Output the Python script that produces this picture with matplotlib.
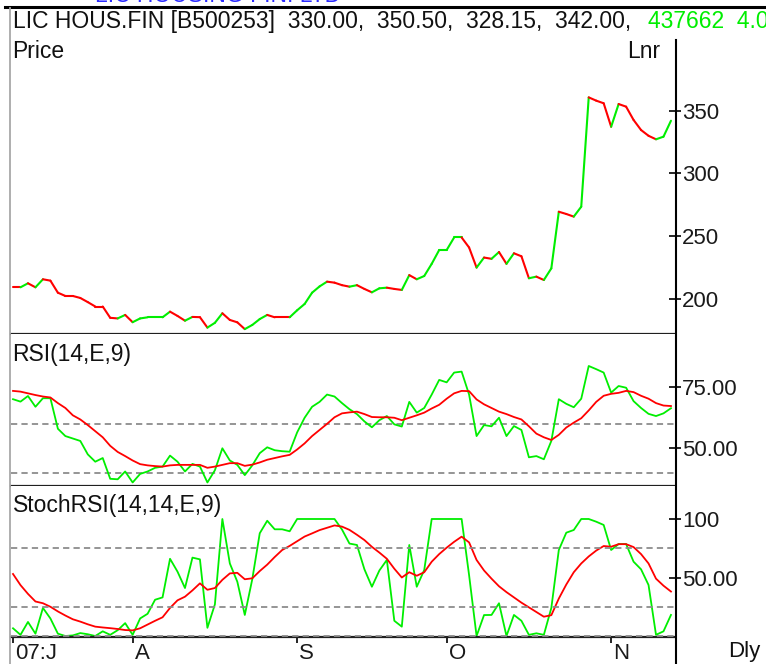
import matplotlib
matplotlib.use("Agg")
import matplotlib.pyplot as plt
import matplotlib.transforms as mtransforms
from matplotlib.lines import Line2D

plt.rcParams['font.family'] = ['Liberation Sans', 'DejaVu Sans']
plt.rcParams['lines.scale_dashes'] = False

# ---------------- data (daily, Jul-Nov 2007) ----------------
price = [209.3, 209.3, 212.5, 209.3, 215.7, 214.6, 205.0, 202.4, 202.4, 200.8,
         197.5, 194.0, 194.0, 185.0, 184.5, 187.3, 181.5, 184.5, 185.4, 185.4,
         185.4, 189.9, 186.5, 182.7, 185.7, 185.5, 177.2, 181.0, 188.6, 183.3,
         181.4, 176.0, 179.3, 184.0, 187.3, 185.4, 185.4, 185.4, 191.0, 196.0,
         205.0, 210.0, 213.8, 213.0, 211.0, 209.8, 211.0, 208.0, 205.3, 208.5,
         209.0, 208.0, 207.2, 219.0, 215.7, 218.3, 228.0, 239.0, 239.0, 249.0,
         249.0, 241.0, 225.0, 233.0, 232.0, 237.4, 228.0, 236.4, 234.0, 216.5,
         217.8, 215.1, 224.4, 269.5, 267.7, 265.6, 273.5, 360.6, 358.0, 355.9,
         337.2, 355.3, 353.2, 342.6, 334.6, 330.0, 327.2, 329.3, 342.0]

rsi = [70.1, 69.1, 71.4, 67.0, 70.5, 70.5, 58.0, 55.0, 54.0, 53.0,
       47.5, 44.5, 46.0, 37.5, 37.3, 40.5, 36.0, 39.5, 40.5, 42.0,
       42.5, 47.0, 44.5, 40.5, 43.6, 42.5, 36.0, 41.0, 50.0, 45.0,
       43.2, 39.0, 43.0, 48.0, 50.4, 49.2, 48.8, 48.6, 56.5, 62.5,
       67.0, 69.0, 72.0, 71.2, 68.5, 66.0, 64.0, 61.0, 58.6, 61.5,
       63.2, 59.8, 58.9, 69.0, 64.6, 66.5, 72.0, 78.0, 77.0, 81.0,
       81.4, 72.0, 55.0, 59.5, 59.0, 62.5, 55.0, 59.1, 57.5, 46.3,
       46.8, 45.5, 53.0, 70.1, 68.2, 66.8, 70.3, 83.7, 82.4, 81.0,
       72.8, 75.5, 74.8, 69.3, 66.5, 64.1, 63.2, 64.3, 66.4]

rsi_signal = [73.5, 73.2, 72.5, 71.8, 71.2, 70.8, 68.5, 66.5, 63.5, 61.8,
              59.5, 57.0, 54.5, 51.0, 48.5, 46.8, 45.0, 43.5, 43.0, 42.7,
              42.5, 43.0, 43.2, 43.2, 43.2, 43.2, 42.0, 42.5, 43.2, 43.9,
              43.9, 42.8, 43.3, 44.2, 45.3, 46.0, 46.7, 47.3, 49.5, 52.0,
              55.0, 57.5, 60.0, 62.7, 64.3, 64.7, 65.0, 64.0, 62.8, 62.7,
              62.7, 62.5, 61.5, 62.5, 63.5, 64.6, 66.3, 67.8, 70.3, 72.5,
              73.5, 73.4, 70.0, 68.0, 66.5, 65.0, 64.0, 62.8, 61.8, 59.0,
              56.0, 54.5, 53.4, 55.5, 58.5, 60.5, 62.3, 65.5, 69.0, 71.5,
              72.3, 72.7, 73.5, 73.0, 71.5, 70.3, 68.5, 67.5, 67.3]

stoch_rsi = [6.6, 1.0, 12.0, 2.0, 24.0, 15.0, 2.0, 0.0, 0.5, 2.5,
             1.5, 0.0, 4.0, 1.0, 5.0, 11.0, 1.0, 15.0, 19.0, 31.0,
             33.0, 66.0, 55.0, 41.0, 67.0, 65.5, 7.0, 27.0, 100.0, 62.0,
             46.4, 18.0, 48.5, 87.8, 98.5, 91.2, 91.2, 89.5, 100.0, 100.0,
             100.0, 100.0, 100.0, 100.0, 91.0, 79.0, 77.8, 57.0, 42.1, 56.0,
             65.0, 13.0, 8.0, 77.8, 42.1, 56.4, 100.0, 100.0, 100.0, 100.0,
             100.0, 52.0, 0.0, 17.9, 18.0, 28.0, 0.0, 18.0, 13.0, 1.0,
             2.3, 1.0, 24.0, 73.5, 88.3, 90.6, 100.0, 100.0, 97.7, 94.9,
             73.5, 78.6, 78.6, 63.5, 57.0, 43.6, 1.0, 4.0, 18.0]

stoch_signal = [53.0, 43.5, 36.0, 29.5, 28.0, 25.0, 21.0, 17.5, 14.3, 12.3,
                10.0, 8.0, 7.3, 6.7, 6.0, 5.1, 4.8, 6.6, 9.8, 13.0,
                16.0, 24.0, 30.5, 33.6, 39.0, 45.0, 39.5, 41.0, 48.0, 53.5,
                54.0, 48.5, 49.3, 55.5, 61.0, 67.5, 73.5, 77.0, 81.0, 85.0,
                87.7, 90.5, 92.5, 94.5, 93.5, 90.7, 86.5, 82.0, 76.2, 71.3,
                66.0, 57.5, 50.0, 54.5, 51.5, 54.5, 63.5, 70.0, 75.5, 80.5,
                84.9, 80.0, 65.0, 56.0, 49.0, 42.5, 37.5, 33.0, 28.5, 24.5,
                20.5, 16.5, 17.8, 32.0, 44.0, 54.5, 62.0, 68.0, 73.0, 76.9,
                76.3, 78.5, 78.5, 76.0, 70.0, 62.0, 49.0, 43.0, 38.0]

month_tick_idx = [0, 16, 38, 58, 80]
month_tick_labels = ["07:J", "A", "S", "O", "N"]

price_ticks = [200, 250, 300, 350]
price_tick_labels = ["200", "250", "300", "350"]
rsi_ticks = [50, 75]
rsi_tick_labels = ["50.00", "75.00"]
rsi_levels = [40, 60]
stoch_ticks = [50, 100]
stoch_tick_labels = ["50.00", "100"]
stoch_levels = [0, 25, 75]

header = "LIC HOUS.FIN [B500253]  330.00,  350.50,  328.15,  342.00, "
header_green = "437662  4.04%"

# ---------------- styling ----------------
GREEN = "#00ee00"
RED = "#ff0000"
GRID = "#8c8c8c"
FS = 16.5

W, H = 766, 664
fig = plt.figure(figsize=(W / 100, H / 100), dpi=100)
fig.patch.set_facecolor("white")

X_LEFT, X_RIGHT = 11, 675
n = len(price)
xs = list(range(n))


def fx(x):
    return x / W


def fy(y):
    return 1 - y / H


def add_panel(top, bottom):
    ax = fig.add_axes([fx(X_LEFT), fy(bottom), (X_RIGHT - X_LEFT) / W, (bottom - top) / H])
    for s in ["top", "left", "right"]:
        ax.spines[s].set_visible(False)
    ax.spines["bottom"].set_color("#202020")
    ax.spines["bottom"].set_linewidth(1.6)
    ax.set_xlim(-0.27, 88.54)
    ax.yaxis.tick_right()
    ax.tick_params(axis="y", direction="inout", length=8, width=1.2, colors="#000000",
                   labelcolor="#1a1a1a", labelsize=16, pad=1)
    ax.tick_params(axis="x", bottom=False, labelbottom=False)
    ax.set_facecolor("white")
    return ax


# Price panel
ax_p = add_panel(9, 334)
ax_p.set_ylim(172.1, 431.0)
ax_p.set_yticks(price_ticks)
ax_p.set_yticklabels(price_tick_labels)
prev = RED
for i in range(1, n):
    if price[i] > price[i - 1]:
        c = GREEN
    elif price[i] < price[i - 1]:
        c = RED
    else:
        c = prev
    prev = c
    ax_p.plot([xs[i - 1], xs[i]], [price[i - 1], price[i]], color=c, lw=1.5,
              solid_capstyle="round")

# RSI panel
ax_r = add_panel(334, 486)
ax_r.set_ylim(34.55, 96.8)
ax_r.set_yticks(rsi_ticks)
ax_r.set_yticklabels(rsi_tick_labels)
for lv in rsi_levels:
    ax_r.axhline(lv, color=GRID, lw=1.3, dashes=(4.5, 3))
ax_r.plot(xs, rsi, color=GREEN, lw=1.3)
ax_r.plot(xs, rsi_signal, color=RED, lw=1.3)

# StochRSI panel
ax_s = add_panel(486, 637)
ax_s.set_ylim(-0.85, 128.2)
ax_s.set_yticks(stoch_ticks)
ax_s.set_yticklabels(stoch_tick_labels)
for lv in stoch_levels:
    ax_s.axhline(lv, color=GRID, lw=1.3, dashes=(4.5, 3), zorder=3)
ax_s.plot(xs, stoch_rsi, color=GREEN, lw=1.3)
ax_s.plot(xs, stoch_signal, color=RED, lw=1.3)
ax_s.set_xticks(month_tick_idx)
ax_s.tick_params(axis="x", bottom=True, direction="out", length=4.5, width=1.2,
                 colors="#000000", labelbottom=False)
trans = mtransforms.blended_transform_factory(ax_s.transData, fig.transFigure)
trans = mtransforms.offset_copy(trans, fig=fig, x=2, y=0, units="dots")
for idx, lab in zip(month_tick_idx, month_tick_labels):
    ax_s.text(idx, fy(659), lab, transform=trans, ha="left", va="baseline",
              fontsize=16, color="#1a1a1a", clip_on=False)

# Frame lines
fig.add_artist(Line2D([fx(5), 1], [fy(7), fy(7)], color="black", lw=2.2,
                      transform=fig.transFigure))
fig.add_artist(Line2D([fx(10), fx(10)], [fy(8), 0], color="#a8a8a8", lw=1.3,
                      transform=fig.transFigure))
fig.add_artist(Line2D([fx(675.5), fx(675.5)], [fy(40), 0], color="black", lw=1.5,
                      transform=fig.transFigure))

# Texts
fig.text(fx(95), fy(1.6), "LIC HOUSING FIN. LTD", color="#2a2aff", fontsize=FS,
         va="baseline")
fig.text(fx(12.5), fy(28), header, fontsize=FS, va="baseline", color="#111111")
fig.text(fx(648), fy(28), header_green, fontsize=FS, va="baseline", color=GREEN)
fig.text(fx(12.5), fy(58), "Price", fontsize=FS, va="baseline", color="#111111")
fig.text(fx(660), fy(58), "Lnr", fontsize=FS, va="baseline", ha="right", color="#111111")
fig.text(fx(12.5), fy(361), "RSI(14,E,9)", fontsize=FS, va="baseline", color="#111111")
fig.text(fx(12.5), fy(512), "StochRSI(14,14,E,9)", fontsize=FS, va="baseline", color="#111111")
fig.text(fx(728), fy(657), "Dly", fontsize=16, va="baseline", color="#111111")

fig.savefig("out.png", dpi=100, facecolor="white")
